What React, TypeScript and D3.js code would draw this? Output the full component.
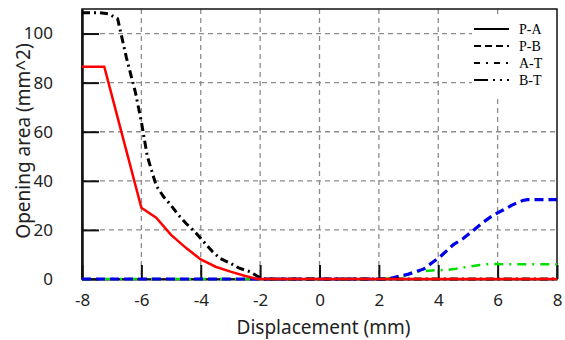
import React, { useEffect, useRef } from "react";
import * as d3 from "d3";

// displacement (mm) vs opening area (mm^2)
const paX = [-8, -7.25, -7, -6.5, -6, -5.5, -5, -4.5, -4, -3.5, -3, -2.5, -2.2, -2, 8];
const paY = [86.5, 86.5, 75, 52, 29, 25, 18, 12.7, 8, 5, 3, 1.2, 0.3, 0, 0];

const pbX = [-8, 2.3, 3, 3.5, 3.8, 4.05, 4.5, 4.85, 5.2, 5.5, 5.85, 6.2, 6.5, 6.85, 7, 8];
const pbY = [0, 0, 2, 4, 6.7, 8.9, 13.9, 16.6, 20, 23, 26, 28.2, 30.2, 32, 32.3, 32.3];

const atX = [-8, -7.4, -7.1, -6.8, -6.65, -6.5, -6.35, -6.2, -6, -5.8, -5.5, -5.25, -5, -4.75, -4.5, -4.2, -3.9, -3.6, -3.35, -3, -2.7, -2.35, -2.1, -1.9, 8];
const atY = [108.5, 108.5, 108, 106, 98, 90, 83, 76, 64, 50, 38, 33.5, 30, 26, 22.7, 19.3, 15.2, 11.1, 8.4, 6.4, 4.4, 3, 1.2, 0, 0];

const btX = [-8, 2, 2.7, 3, 3.3, 3.8, 4.3, 4.6, 5, 5.4, 5.8, 6.2, 7, 8];
const btY = [0, 0, 0.3, 2, 3, 3.5, 3.7, 4.2, 5, 5.7, 6.2, 6, 6, 6];

const xTicks = [-8, -6, -4, -2, 0, 2, 4, 6, 8];
const yTicks = [0, 20, 40, 60, 80, 100];
const legendNames = ["P-A", "P-B", "A-T", "B-T"];

const sans = "Noto Sans, DejaVu Sans, sans-serif";

export default function App() {
  const ref = useRef<SVGSVGElement>(null);

  useEffect(() => {
    const width = 565;
    const height = 340;
    const marginLeft = 82;
    const marginRight = 8;
    const marginTop = 9;
    const marginBottom = 61;

    const svg = d3.select(ref.current);
    svg.selectAll("*").remove();

    const x = d3.scaleLinear().domain([-8, 8]).range([marginLeft, width - marginRight]);
    const y = d3.scaleLinear().domain([0, 110]).range([height - marginBottom, marginTop]);

    // grid
    const grid = svg.append("g").attr("stroke", "#8c8c8c").attr("stroke-width", 1.3).attr("stroke-dasharray", "5,4");
    grid.selectAll(".gx")
      .data(xTicks.slice(1, -1))
      .join("line")
      .attr("x1", (d) => x(d)).attr("x2", (d) => x(d))
      .attr("y1", y(110)).attr("y2", y(0));
    grid.selectAll(".gy")
      .data(yTicks.slice(1))
      .join("line")
      .attr("x1", x(-8)).attr("x2", x(8))
      .attr("y1", (d) => y(d)).attr("y2", (d) => y(d));

    // legend background hides the grid behind it
    svg.append("rect")
      .attr("x", 472).attr("y", 16)
      .attr("width", x(8) - 473).attr("height", 80)
      .attr("fill", "#fff");

    // frame
    svg.append("rect")
      .attr("x", x(-8)).attr("y", y(110))
      .attr("width", x(8) - x(-8)).attr("height", y(0) - y(110))
      .attr("fill", "none").attr("stroke", "#111").attr("stroke-width", 1.5);

    // inner ticks
    const xAxis = svg.append("g")
      .attr("transform", `translate(0,${y(0)})`)
      .call(d3.axisBottom(x).tickValues(xTicks).tickFormat((d) => String(d)).tickSizeInner(-14).tickSizeOuter(0).tickPadding(15));
    xAxis.select(".domain").attr("stroke", "#111").attr("stroke-width", 2);
    xAxis.selectAll(".tick line").attr("stroke", "#111").attr("stroke-width", 2);
    xAxis.selectAll("text")
      .attr("font-family", sans)
      .attr("font-size", 17)
      .attr("fill", "#222");

    const yAxis = svg.append("g")
      .attr("transform", `translate(${x(-8)},0)`)
      .call(d3.axisLeft(y).tickValues(yTicks).tickFormat((d) => String(d)).tickSizeInner(-17).tickSizeOuter(0).tickPadding(29));
    yAxis.select(".domain").attr("stroke", "#111").attr("stroke-width", 2.5);
    yAxis.selectAll(".tick line").attr("stroke", "#111").attr("stroke-width", 2);
    yAxis.selectAll("text")
      .attr("font-family", sans)
      .attr("font-size", 17)
      .attr("fill", "#222");

    // series
    const line = d3.line<[number, number]>().x((d) => x(d[0])).y((d) => y(d[1]));
    const series = [
      { xs: btX, ys: btY, color: "#00e000", dash: "9,6,2,6", w: 2.5 },
      { xs: pbX, ys: pbY, color: "#0000e8", dash: "9,5", w: 3.2 },
      { xs: atX, ys: atY, color: "#000", dash: "8,4,2,4", w: 3 },
      { xs: paX, ys: paY, color: "#ff0000", dash: null, w: 2.5 },
    ];
    series.forEach((s) => {
      const pts = s.xs.map((v, i) => [v, s.ys[i]] as [number, number]);
      svg.append("path")
        .attr("d", line(pts))
        .attr("fill", "none")
        .attr("stroke", s.color)
        .attr("stroke-width", s.w)
        .attr("stroke-dasharray", s.dash);
    });

    // legend
    const legendDash = [null, "7,4", "6,6,2,6", "14,5,2,5,2,5"];
    const legend = svg.append("g").attr("transform", "translate(474,29)");
    legendNames.forEach((name, i) => {
      const gy = i * 17;
      legend.append("line")
        .attr("x1", 0).attr("x2", 35)
        .attr("y1", gy).attr("y2", gy)
        .attr("stroke", "#000").attr("stroke-width", 2)
        .attr("stroke-dasharray", legendDash[i]);
      legend.append("text")
        .attr("x", 45).attr("y", gy + 5)
        .attr("font-family", "Liberation Serif, Times New Roman, serif")
        .attr("font-size", 14)
        .attr("fill", "#000")
        .text(name);
    });

    // axis titles
    svg.append("text")
      .attr("x", x(0) + 4).attr("y", 334)
      .attr("text-anchor", "middle")
      .attr("font-family", sans)
      .attr("font-size", 19)
      .attr("fill", "#222")
      .text("Displacement (mm)");

    svg.append("text")
      .attr("transform", `translate(30,${141}) rotate(-90)`)
      .attr("text-anchor", "middle")
      .attr("font-family", sans)
      .attr("font-size", 19)
      .attr("fill", "#222")
      .text("Opening area (mm^2)");
  }, []);

  return (
    <svg
      ref={ref}
      width={565}
      height={340}
      style={{ position: "absolute", left: 0, top: 0, background: "#fff" }}
    />
  );
}
